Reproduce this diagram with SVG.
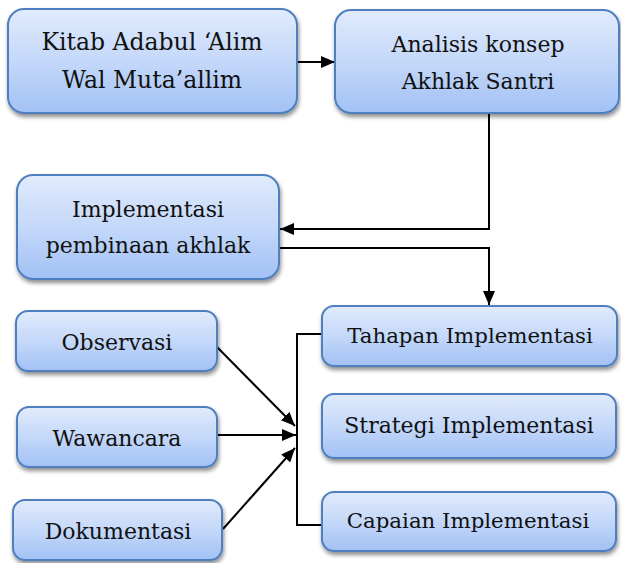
<svg xmlns="http://www.w3.org/2000/svg" width="621" height="563" viewBox="0 0 621 563">
<defs>
<linearGradient id="g" x1="0" y1="0" x2="0" y2="1">
<stop offset="0" stop-color="#e1ebfc"/>
<stop offset="0.5" stop-color="#c4d8f9"/>
<stop offset="1" stop-color="#a2c1f5"/>
</linearGradient>
<filter id="sh" x="-10%" y="-10%" width="125%" height="135%">
<feGaussianBlur in="SourceAlpha" stdDeviation="2"/>
<feOffset dx="1" dy="3" result="b"/>
<feComponentTransfer><feFuncA type="linear" slope="0.45"/></feComponentTransfer>
<feMerge><feMergeNode/><feMergeNode in="SourceGraphic"/></feMerge>
</filter>
<marker id="ah" viewBox="0 0 14 12" refX="14" refY="6" markerWidth="14" markerHeight="12" markerUnits="userSpaceOnUse" orient="auto">
<path d="M0,0 L14,6 L0,12 Z" fill="#000"/>
</marker>
</defs>
<style>
.box{fill:url(#g);stroke:#4f7fbf;stroke-width:2;filter:url(#sh)}
.t{font-family:'DejaVu Serif','Liberation Serif',serif;font-size:22px;fill:#111;text-anchor:middle}
.big{font-size:23.5px}
.sm{font-size:21.3px}
.c{fill:none;stroke:#000;stroke-width:2}
</style>
<g id="connectors">
<path class="c" d="M297,62 L335,62" marker-end="url(#ah)"/>
<path class="c" d="M489,113 L489,229 L280,229" marker-end="url(#ah)"/>
<path class="c" d="M279,248 L489,248 L489,305" marker-end="url(#ah)"/>
<path class="c" d="M322,334 L297,334 L297,525 L322,525"/>
<path class="c" d="M217,347 L295,426" marker-end="url(#ah)"/>
<path class="c" d="M217,435 L296,435" marker-end="url(#ah)"/>
<path class="c" d="M223,529 L295,448" marker-end="url(#ah)"/>
</g>
<g id="kitab">
<rect class="box" x="8" y="9" width="289" height="104" rx="16"/>
<text class="t big" x="152" y="50">Kitab Adabul ‘Alim</text>
<text class="t big" x="152" y="88">Wal Muta’allim</text>
</g>
<g id="analisis">
<rect class="box" x="335" y="10" width="284" height="103" rx="16"/>
<text class="t" x="478" y="52">Analisis konsep</text>
<text class="t" x="478" y="89">Akhlak Santri</text>
</g>
<g id="implementasi">
<rect class="box" x="17" y="175" width="262" height="104" rx="16"/>
<text class="t" x="148" y="217">Implementasi</text>
<text class="t" x="148" y="253">pembinaan akhlak</text>
</g>
<g id="tahapan">
<rect class="box" x="322" y="306" width="295" height="60" rx="12"/>
<text class="t sm" x="470" y="343">Tahapan Implementasi</text>
</g>
<g id="strategi">
<rect class="box" x="322" y="394" width="294" height="64" rx="12"/>
<text class="t" x="469" y="433">Strategi Implementasi</text>
</g>
<g id="capaian">
<rect class="box" x="322" y="492" width="294" height="59" rx="12"/>
<text class="t sm" x="468" y="528">Capaian Implementasi</text>
</g>
<g id="observasi">
<rect class="box" x="16" y="311" width="201" height="60" rx="12"/>
<text class="t" x="117" y="350">Observasi</text>
</g>
<g id="wawancara">
<rect class="box" x="17" y="407" width="200" height="60" rx="12"/>
<text class="t" x="117" y="446">Wawancara</text>
</g>
<g id="dokumentasi">
<rect class="box" x="13" y="500" width="209" height="60" rx="12"/>
<text class="t" x="118" y="539">Dokumentasi</text>
</g>
</svg>
